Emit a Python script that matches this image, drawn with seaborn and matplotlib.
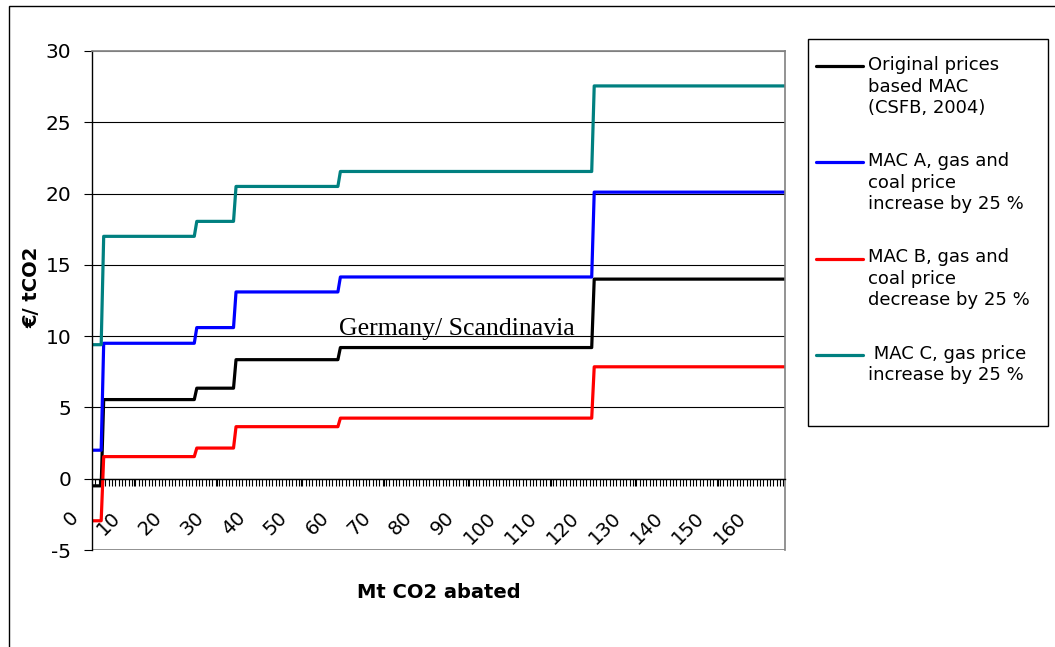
import numpy as np
import pandas as pd
import matplotlib
matplotlib.use("Agg")
import matplotlib.pyplot as plt
import matplotlib.transforms as mtransforms
import seaborn as sns
from matplotlib.lines import Line2D
from matplotlib.legend_handler import HandlerLine2D
from matplotlib.patches import Rectangle
from matplotlib.ticker import MultipleLocator

# Cumulative abatement (Mt CO2) at the corners of the step curves
abated = [0, 2.2, 2.8, 24.5, 25.1, 33.9, 34.5, 58.9, 59.5, 119.7, 120.3, 166]

# Marginal abatement cost (EUR / tCO2) for each scenario at those points
mac_original = [-0.5, -0.5, 5.55, 5.55, 6.35, 6.35, 8.35, 8.35, 9.2, 9.2, 14.0, 14.0]
mac_a = [2.0, 2.0, 9.5, 9.5, 10.6, 10.6, 13.1, 13.1, 14.15, 14.15, 20.1, 20.1]
mac_b = [-2.95, -2.95, 1.55, 1.55, 2.15, 2.15, 3.65, 3.65, 4.25, 4.25, 7.85, 7.85]
mac_c = [9.4, 9.4, 17.0, 17.0, 18.05, 18.05, 20.5, 20.5, 21.55, 21.55, 27.55, 27.55]

series_names = ["Original", "MAC A", "MAC B", "MAC C"]
legend_labels = [
    "Original prices\nbased MAC\n(CSFB, 2004)",
    "MAC A, gas and\ncoal price\nincrease by 25 %",
    "MAC B, gas and\ncoal price\ndecrease by 25 %",
    " MAC C, gas price\nincrease by 25 %",
]
series_colors = ["#000000", "#0000FF", "#FF0000", "#008080"]

x_ticks = list(range(0, 161, 10))
y_ticks = [-5, 0, 5, 10, 15, 20, 25, 30]

sns.set_theme(style="white")
plt.rcParams["font.family"] = ["DejaVu Sans"]

W, H = 1055, 647
fig = plt.figure(figsize=(W / 100, H / 100), dpi=100)
fig.patch.set_facecolor("white")

# outer chart frame (runs off the right and bottom edges)
fig.add_artist(Rectangle((9 / W, -0.1), 1.2, 1 - 6 / H + 0.1, transform=fig.transFigure,
                         fill=False, edgecolor="black", lw=1.0))

ax = fig.add_axes([92 / W, 1 - 550 / H, (785 - 92) / W, (550 - 51) / H])

df = pd.concat([
    pd.DataFrame({"abated": abated, "cost": vals, "series": name})
    for name, vals in zip(series_names, [mac_original, mac_a, mac_b, mac_c])
], ignore_index=True)

sns.lineplot(data=df, x="abated", y="cost", hue="series", hue_order=series_names,
             palette=dict(zip(series_names, series_colors)), estimator=None, sort=False,
             lw=2.3, ax=ax, legend=False)

ax.set_xlim(0, 166)
ax.set_ylim(-5, 30)

# axes look
ax.set_axisbelow(True)
ax.set_yticks(y_ticks)
ax.set_yticklabels([str(v) for v in y_ticks])
ax.grid(axis="y", color="black", lw=0.8)
ax.grid(axis="x", visible=False)
ax.yaxis.get_gridlines()[0].set_color("#808080")
ax.yaxis.get_gridlines()[-1].set_color("#808080")
for side in ["top", "right"]:
    ax.spines[side].set_color("#808080")
    ax.spines[side].set_linewidth(1.2)
ax.spines["left"].set_color("black")
ax.spines["left"].set_linewidth(1.0)
ax.spines["bottom"].set_position(("data", 0))
ax.spines["bottom"].set_color("black")
ax.spines["bottom"].set_linewidth(1.0)
ax.axhline(-5, color="#808080", lw=1.2, zorder=0.5)

ax.set_xticks(x_ticks)
ax.set_xticklabels([str(v) for v in x_ticks])
ax.xaxis.set_minor_locator(MultipleLocator(0.8))
ax.tick_params(axis="x", which="both", direction="out", length=5, width=0.8,
               color="black", bottom=True)
ax.tick_params(axis="x", which="major", pad=16, labelsize=14, labelcolor="black")
ax.tick_params(axis="y", which="major", direction="out", length=6, width=0.8,
               color="black", left=True, pad=9, labelsize=14.5, labelcolor="black")

shift = mtransforms.ScaledTranslation(-10 / 100, 0, fig.dpi_scale_trans)
for lbl in ax.get_xticklabels():
    lbl.set_rotation(45)
    lbl.set_ha("right")
    lbl.set_va("top")
    lbl.set_transform(lbl.get_transform() + shift)

ax.set_xlabel("Mt CO2 abated", fontsize=14, fontweight="bold", color="black", va="center")
ax.xaxis.set_label_coords(0.5, (550 - 593) / (550 - 51))
ax.set_ylabel("€/ tCO2", fontsize=14, fontweight="bold", color="black", va="center")
ax.yaxis.set_label_coords((32 - 92) / (785 - 92), (550 - 287) / (550 - 51))

ax.text(59.2, 10.05, "Germany/ Scandinavia", family="Liberation Serif", fontsize=18.5,
        va="baseline", ha="left", color="black")

# legend: handle sits beside the first line of each multi-line label
LEG_FS = 13
LEG_LS = 1.25


class FirstLineHandler(HandlerLine2D):
    def __init__(self, nlines, **kw):
        super().__init__(**kw)
        self.nlines = nlines

    def create_artists(self, legend, orig_handle, xdescent, ydescent, width, height,
                       fontsize, trans):
        artists = super().create_artists(legend, orig_handle, xdescent, ydescent, width,
                                         height, fontsize, trans)
        up = 0.5 * (self.nlines - 1) * (0.76 * LEG_LS + 0.208) * fontsize
        for a in artists:
            a.set_ydata(np.asarray(a.get_ydata()) + up)
        return artists


handles = [Line2D([], [], color=c, lw=2.3) for c in series_colors]
handler_map = {h: FirstLineHandler(lab.count("\n") + 1) for h, lab in zip(handles, legend_labels)}

fig.add_artist(Rectangle((808 / W, 1 - 426 / H), 240 / W, 387 / H, transform=fig.transFigure,
                         fill=False, edgecolor="black", lw=1.0))
leg = fig.legend(handles, legend_labels, loc="upper left",
                 bbox_to_anchor=(816 / W, 1 - 56 / H), bbox_transform=fig.transFigure,
                 frameon=False, fontsize=LEG_FS, handlelength=2.6, handletextpad=0.3,
                 labelspacing=1.95, borderpad=0, borderaxespad=0, handler_map=handler_map)
for t in leg.get_texts():
    t.set_linespacing(LEG_LS)
    t.set_color("black")

fig.savefig("out.png", dpi=100, facecolor="white")
